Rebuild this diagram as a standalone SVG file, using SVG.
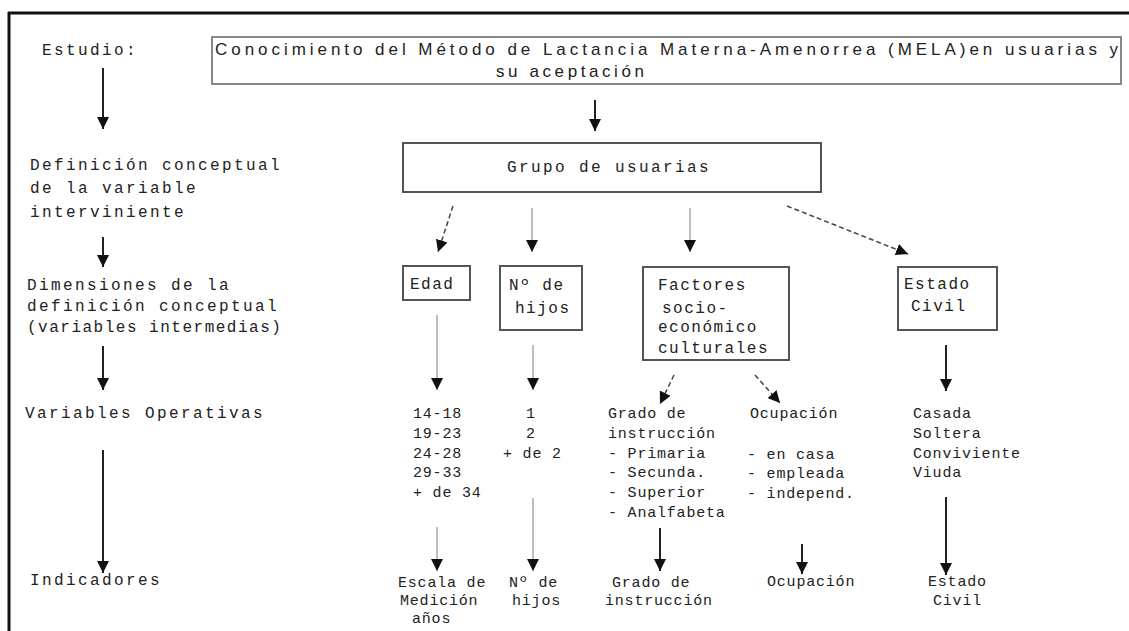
<svg xmlns="http://www.w3.org/2000/svg" width="1129" height="631" viewBox="0 0 1129 631">
<style>
  text { font-family: "Liberation Mono", "DejaVu Sans Mono", monospace; fill: #222; }
  .lbl { font-size: 16px; letter-spacing: 2.4px; }
  .lbl2 { font-size: 16px; letter-spacing: 1.5px; }
  .bx { font-size: 16px; letter-spacing: 1.5px; }
  .var { font-size: 15px; letter-spacing: 0.8px; }
  .title { font-family: "Liberation Sans", Arial, sans-serif; font-size: 17px; }
  .node { fill: #fff; stroke: #555; stroke-width: 2; }
  .top { fill: #fff; stroke: #888; stroke-width: 2; }
  .solid { stroke: #222; stroke-width: 2; fill: none; }
  .gray { stroke: #aaa; stroke-width: 1.5; fill: none; }
  .dash { stroke: #444; stroke-width: 1.5; stroke-dasharray: 5 3; fill: none; }
</style>
<defs>
  <marker id="ah" markerUnits="userSpaceOnUse" markerWidth="12" markerHeight="12" viewBox="0 0 12 12" refX="12" refY="6" orient="auto">
    <path d="M0,0 L12,6 L0,12 z" fill="#111"/>
  </marker>
</defs>
<rect width="1129" height="631" fill="#fff"/>
<g id="frame">
  <line x1="8" y1="13" x2="1129" y2="13" stroke="#111" stroke-width="3"/>
  <line x1="9" y1="12" x2="9" y2="631" stroke="#111" stroke-width="3"/>
</g>

<g id="left-labels">
  <text class="lbl" x="42" y="55">Estudio:</text>
  <text class="lbl" x="30" y="170">Definición conceptual</text>
  <text class="lbl" x="30" y="193">de la variable</text>
  <text class="lbl" x="30" y="217">interviniente</text>
  <text class="lbl" x="27" y="290">Dimensiones de la</text>
  <text class="lbl" x="27" y="311">definición conceptual</text>
  <text class="lbl2" x="27" y="332">(variables intermedias)</text>
  <text class="lbl" x="25" y="418">Variables Operativas</text>
  <text class="lbl" x="30" y="585">Indicadores</text>
</g>

<g id="node-estudio">
  <rect class="top" x="212" y="37" width="909" height="47"/>
  <text class="title" x="215" y="55" textLength="903">Conocimiento del Método de Lactancia Materna-Amenorrea (MELA)en usuarias y</text>
  <text class="title" x="496" y="77" textLength="148">su aceptación</text>
</g>

<g id="node-grupo">
  <rect class="node" x="403" y="143" width="418" height="49"/>
  <text class="lbl" x="507" y="172">Grupo de usuarias</text>
</g>

<g id="node-edad">
  <rect class="node" x="403" y="266" width="67" height="34"/>
  <text class="bx" x="410" y="289">Edad</text>
</g>
<g id="node-hijos">
  <rect class="node" x="500" y="266" width="82" height="64"/>
  <text class="bx" x="509" y="290">Nº de</text>
  <text class="bx" x="515" y="313">hijos</text>
</g>
<g id="node-factores">
  <rect class="node" x="643" y="267" width="146" height="93"/>
  <text class="bx" x="658" y="290">Factores</text>
  <text class="bx" x="662" y="313">socio-</text>
  <text class="bx" x="658" y="332">económico</text>
  <text class="bx" x="658" y="353">culturales</text>
</g>
<g id="node-estado">
  <rect class="node" x="898" y="267" width="99" height="63"/>
  <text class="bx" x="904" y="289">Estado</text>
  <text class="bx" x="911" y="311">Civil</text>
</g>

<g id="node-var-edad">
  <text class="var" x="413" y="418">14-18</text>
  <text class="var" x="413" y="438">19-23</text>
  <text class="var" x="413" y="458">24-28</text>
  <text class="var" x="413" y="477">29-33</text>
  <text class="var" x="413" y="497">+ de 34</text>
</g>
<g id="node-var-hijos">
  <text class="var" x="526" y="418">1</text>
  <text class="var" x="526" y="438">2</text>
  <text class="var" x="503" y="458">+ de 2</text>
</g>
<g id="node-var-grado">
  <text class="var" x="608" y="418">Grado de</text>
  <text class="var" x="608" y="438">instrucción</text>
  <text class="var" x="608" y="458">- Primaria</text>
  <text class="var" x="608" y="477">- Secunda.</text>
  <text class="var" x="608" y="497">- Superior</text>
  <text class="var" x="608" y="517">- Analfabeta</text>
</g>
<g id="node-var-ocupacion">
  <text class="var" x="750" y="418">Ocupación</text>
  <text class="var" x="747" y="459">- en casa</text>
  <text class="var" x="747" y="478">- empleada</text>
  <text class="var" x="747" y="498">- independ.</text>
</g>
<g id="node-var-estado">
  <text class="var" x="913" y="418">Casada</text>
  <text class="var" x="913" y="438">Soltera</text>
  <text class="var" x="913" y="458">Conviviente</text>
  <text class="var" x="913" y="477">Viuda</text>
</g>

<g id="node-ind-edad">
  <text class="var" x="398" y="587">Escala de</text>
  <text class="var" x="400" y="605">Medición</text>
  <text class="var" x="412" y="623">años</text>
</g>
<g id="node-ind-hijos">
  <text class="var" x="509" y="587">Nº de</text>
  <text class="var" x="512" y="605">hijos</text>
</g>
<g id="node-ind-grado">
  <text class="var" x="612" y="587">Grado de</text>
  <text class="var" x="605" y="605">instrucción</text>
</g>
<g id="node-ind-ocupacion">
  <text class="var" x="767" y="586">Ocupación</text>
</g>
<g id="node-ind-estado">
  <text class="var" x="928" y="586">Estado</text>
  <text class="var" x="933" y="605">Civil</text>
</g>

<g id="connectors">
  <line class="solid" x1="103" y1="68" x2="103" y2="129" marker-end="url(#ah)"/>
  <line class="solid" x1="103" y1="237" x2="103" y2="267" marker-end="url(#ah)"/>
  <line class="solid" x1="103" y1="346" x2="103" y2="390" marker-end="url(#ah)"/>
  <line class="solid" x1="103" y1="450" x2="103" y2="573" marker-end="url(#ah)"/>

  <line class="solid" x1="595" y1="100" x2="595" y2="131" marker-end="url(#ah)"/>

  <line class="dash" x1="453" y1="206" x2="438" y2="252" marker-end="url(#ah)"/>
  <line class="gray" x1="532" y1="208" x2="532" y2="252" marker-end="url(#ah)"/>
  <line class="gray" x1="690" y1="208" x2="690" y2="252" marker-end="url(#ah)"/>
  <line class="dash" x1="787" y1="206" x2="908" y2="254" marker-end="url(#ah)"/>

  <line class="gray" x1="437" y1="315" x2="437" y2="390" marker-end="url(#ah)"/>
  <line class="gray" x1="533" y1="345" x2="533" y2="390" marker-end="url(#ah)"/>
  <line class="dash" x1="674" y1="375" x2="660" y2="404" marker-end="url(#ah)"/>
  <line class="dash" x1="755" y1="375" x2="780" y2="403" marker-end="url(#ah)"/>
  <line class="solid" x1="946" y1="345" x2="946" y2="391" marker-end="url(#ah)"/>

  <line class="gray" x1="437" y1="527" x2="437" y2="571" marker-end="url(#ah)"/>
  <line class="gray" x1="533" y1="498" x2="533" y2="571" marker-end="url(#ah)"/>
  <line class="solid" x1="660" y1="528" x2="660" y2="571" marker-end="url(#ah)"/>
  <line class="solid" x1="802" y1="544" x2="802" y2="574" marker-end="url(#ah)"/>
  <line class="solid" x1="946" y1="497" x2="946" y2="575" marker-end="url(#ah)"/>
</g>
</svg>
